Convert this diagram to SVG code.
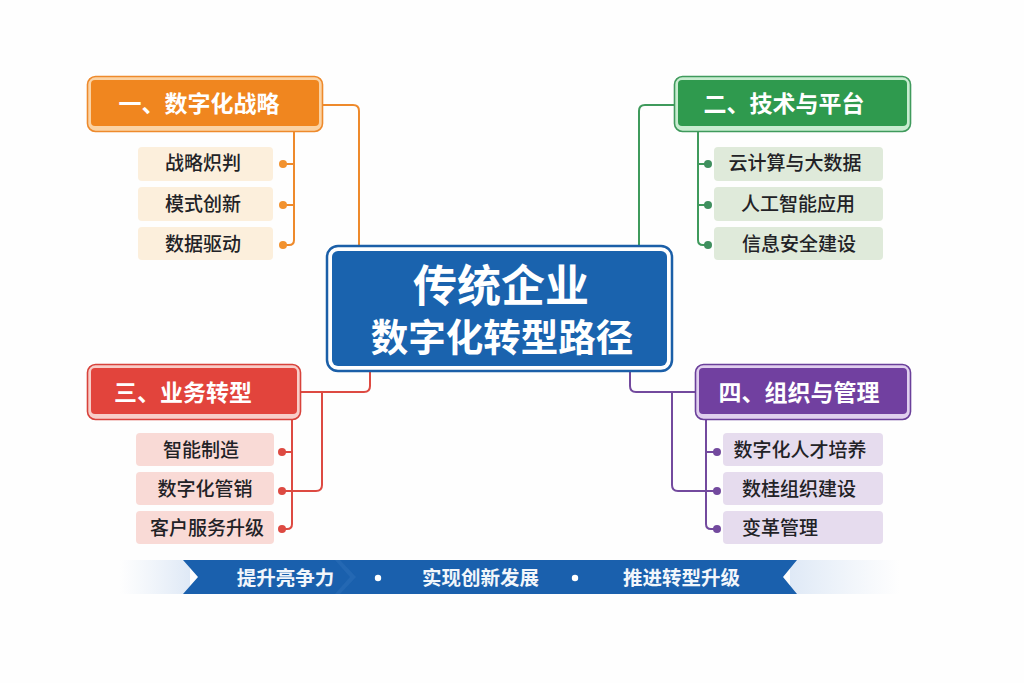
<svg xmlns="http://www.w3.org/2000/svg" width="1024" height="683" viewBox="0 0 1024 683">
<style>
text{font-family:"Noto Sans CJK SC","Noto Sans",sans-serif;text-anchor:middle}
.h{font-size:23px;font-weight:700;fill:#fff}
.t{font-size:19px;font-weight:500;fill:#222226}
.b{font-size:19.500px;font-weight:700;fill:#f2f6fb}
.c{fill:none;stroke-width:2;stroke-linejoin:round}
.o{stroke:#ee8a2c}.g{stroke:#3f9a5c}.r{stroke:#dd4a42}.p{stroke:#734a9e}
</style>
<defs>
<linearGradient id="fl" x1="0" x2="1" y1="0" y2="0"><stop offset="0" stop-color="#e3ecf7" stop-opacity="0"/><stop offset="1" stop-color="#dfe9f6"/></linearGradient>
<linearGradient id="fr" x1="0" x2="1" y1="0" y2="0"><stop offset="0" stop-color="#dfe9f6"/><stop offset="1" stop-color="#e3ecf7" stop-opacity="0"/></linearGradient>
</defs>
<rect width="1024" height="683" fill="#fefefe"/>
<g id="connectors">
<path class="c o" d="M323 105H353Q359 105 359 111V246"/>
<path class="c o" d="M294 132V240Q294 245 289 245H283M294 164H283M294 205H283"/>
<path class="c g" d="M674 105H645Q639 105 639 111V246"/>
<path class="c g" d="M698 132V240Q698 245 703 245H708M698 164H708M698 205H708"/>
<path class="c r" d="M370 372V386Q370 392 364 392H301M322 392V485Q322 491 316 491H282"/>
<path class="c r" d="M292 420V524Q292 529 287 529H282M292 452H282"/>
<path class="c p" d="M630 372V386Q630 392 636 392H695M672 392V485Q672 491 678 491H717"/>
<path class="c p" d="M706 420V524Q706 529 711 529H717M706 452H717"/>
<g fill="#f2922f"><circle cx="283" cy="164" r="4"/><circle cx="283" cy="205" r="4"/><circle cx="283" cy="245" r="4"/></g>
<g fill="#3f8f5e"><circle cx="708" cy="164" r="4"/><circle cx="708" cy="205" r="4"/><circle cx="708" cy="245" r="4"/></g>
<g fill="#dd4a42"><circle cx="282" cy="452" r="4"/><circle cx="282" cy="491" r="4"/><circle cx="282" cy="529" r="4"/></g>
<g fill="#734a9e"><circle cx="717" cy="452" r="4"/><circle cx="717" cy="491" r="4"/><circle cx="717" cy="529" r="4"/></g>
</g>
<g id="center">
<rect x="327" y="246" width="345" height="125" rx="11" fill="#fff" stroke="#1b5fa8" stroke-width="2.500"/>
<rect x="332" y="251" width="335" height="115" rx="6" fill="#1a63ae"/>
<text x="501" y="302" font-size="44" font-weight="700" fill="#fff">传统企业</text>
<text x="502" y="351" font-size="37.500" font-weight="700" fill="#fff">数字化转型路径</text>
</g>
<g id="n1">
<rect x="87.500" y="76.500" width="235" height="55" rx="8" fill="#fbd3a4" stroke="#ee8a2c" stroke-width="1.600"/>
<rect x="91" y="80" width="228" height="46" rx="4" fill="#f0861f"/>
<text class="h" x="199" y="112">一、数字化战略</text>
</g>
<g id="n1a"><rect x="138" y="147" width="135" height="34" rx="4" fill="#fcefdc"/><text class="t" x="203" y="170">战略炽判</text></g>
<g id="n1b"><rect x="138" y="187" width="135" height="34" rx="4" fill="#fcefdc"/><text class="t" x="203" y="211">模式创新</text></g>
<g id="n1c"><rect x="138" y="227" width="135" height="33" rx="4" fill="#fcefdc"/><text class="t" x="203" y="251">数据驱动</text></g>
<g id="n2">
<rect x="674.500" y="76.500" width="236" height="55" rx="8" fill="#c8ecd0" stroke="#3f9a5c" stroke-width="1.600"/>
<rect x="678" y="80" width="229" height="46" rx="4" fill="#2f9a4e"/>
<text class="h" x="784" y="112">二、技术与平台</text>
</g>
<g id="n2a"><rect x="714" y="147" width="169" height="34" rx="4" fill="#dfeada"/><text class="t" x="795" y="170">云计算与大数据</text></g>
<g id="n2b"><rect x="714" y="187" width="169" height="34" rx="4" fill="#dfeada"/><text class="t" x="798" y="211">人工智能应用</text></g>
<g id="n2c"><rect x="714" y="227" width="169" height="33" rx="4" fill="#dfeada"/><text class="t" x="799" y="251">信息安全建设</text></g>
<g id="n3">
<rect x="87.500" y="364.500" width="213" height="55" rx="8" fill="#f8cdc8" stroke="#d8423b" stroke-width="1.600"/>
<rect x="91" y="368" width="206" height="46" rx="4" fill="#e2443c"/>
<text class="h" x="183" y="401">三、业务转型</text>
</g>
<g id="n3a"><rect x="136" y="433" width="138" height="33" rx="4" fill="#f9dad6"/><text class="t" x="201" y="457">智能制造</text></g>
<g id="n3b"><rect x="136" y="472" width="138" height="33" rx="4" fill="#f9dad6"/><text class="t" x="205" y="496">数字化管销</text></g>
<g id="n3c"><rect x="136" y="511" width="138" height="33" rx="4" fill="#f9dad6"/><text class="t" x="207" y="535">客户服务升级</text></g>
<g id="n4">
<rect x="695.500" y="364.500" width="215" height="55" rx="8" fill="#e0cfee" stroke="#6a3f9a" stroke-width="1.600"/>
<rect x="699" y="368" width="208" height="46" rx="4" fill="#7140a0"/>
<text class="h" x="799" y="401">四、组织与管理</text>
</g>
<g id="n4a"><rect x="723" y="433" width="160" height="33" rx="4" fill="#e6dcee"/><text class="t" x="800" y="457">数字化人才培养</text></g>
<g id="n4b"><rect x="723" y="472" width="160" height="33" rx="4" fill="#e6dcee"/><text class="t" x="799" y="496">数桂组织建设</text></g>
<g id="n4c"><rect x="723" y="511" width="160" height="33" rx="4" fill="#e6dcee"/><text class="t" x="780" y="535">变革管理</text></g>
<g id="banner">
<rect x="120" y="560" width="70" height="34" fill="url(#fl)"/>
<rect x="790" y="560" width="110" height="34" fill="url(#fr)"/>
<path d="M183 560H797L783 577L797 594H183L198 577Z" fill="#1a60ad"/>
<path d="M335 560H340L356 577L340 594H335L350 577Z" fill="#2468b3"/>
<text class="b" x="285.500" y="585">提升亮争力</text>
<circle cx="378" cy="578" r="3.200" fill="#fff"/>
<text class="b" x="480.500" y="585">实现创新发展</text>
<circle cx="575" cy="578" r="3.200" fill="#fff"/>
<text class="b" x="681.500" y="585">推进转型升级</text>
</g>
</svg>
